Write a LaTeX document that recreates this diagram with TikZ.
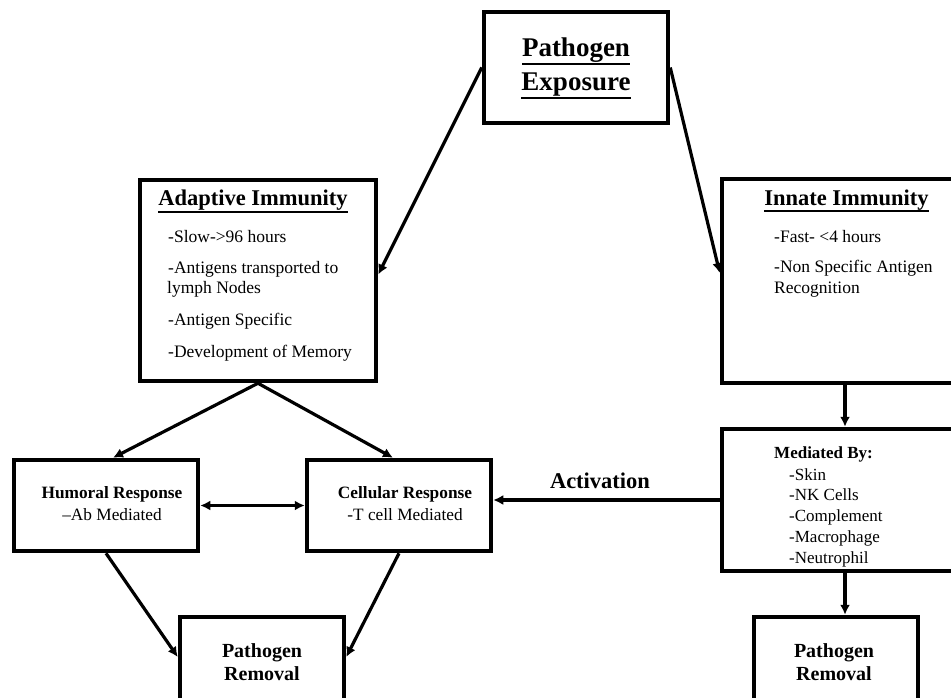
\documentclass[tikz,border=0pt]{standalone}
\usepackage{fontspec}
\setmainfont{Liberation Serif}
\usetikzlibrary{arrows.meta}
\newcommand\myul[1]{\setbox0\hbox{#1}\rlap{\rule[-0.3em]{\wd0}{0.075em}}\copy0}
\begin{document}
\begin{tikzpicture}[x=1pt,y=-1pt,
  box/.style={draw,line width=4.5pt,inner sep=0pt},
  arr/.style={line width=3.2pt,-{Latex[length=10pt,width=10pt]}},
  darr/.style={line width=3.2pt,{Latex[length=10pt,width=10pt]}-{Latex[length=10pt,width=10pt]}},
  bigt/.style={font=\fontsize{27}{32}\selectfont\bfseries,anchor=base,inner sep=0pt},
  hd/.style={font=\fontsize{22.5}{26}\selectfont\bfseries,anchor=base,inner sep=0pt},
  tx/.style={font=\fontsize{17.5}{20}\selectfont,anchor=base west,inner sep=0pt},
  sb/.style={font=\fontsize{17.3}{20}\selectfont\bfseries,anchor=base,inner sep=0pt},
  sr/.style={font=\fontsize{17.3}{20}\selectfont,anchor=base,inner sep=0pt},
  mb/.style={font=\fontsize{17}{20}\selectfont\bfseries,anchor=base west,inner sep=0pt},
  mt/.style={font=\fontsize{17}{20}\selectfont,anchor=base west,inner sep=0pt},
  rm/.style={font=\fontsize{20}{23}\selectfont\bfseries,anchor=base,inner sep=0pt}]
\useasboundingbox (0,0) rectangle (951,698);
\clip (0,0) rectangle (951,698);
\fill[white] (0,0) rectangle (951,698);
% boxes
\node[box,minimum width=184pt,minimum height=111pt] (pe) at (576,67.5) {};
\node[box,minimum width=236pt,minimum height=201pt] (ad) at (258,280.5) {};
\node[box,minimum width=246pt,minimum height=204pt] (in) at (845,281) {};
\node[box,minimum width=246pt,minimum height=142pt] (me) at (845,500) {};
\node[box,minimum width=184pt,minimum height=91pt] (hu) at (106,505.5) {};
\node[box,minimum width=184pt,minimum height=91pt] (ce) at (399,505.5) {};
\node[box,minimum width=164pt,minimum height=96pt] (lr) at (262,665) {};
\node[box,minimum width=164pt,minimum height=96pt] (rr) at (836,665) {};
% texts
\node[bigt] (pe1) at (576,57) {\myul{Pathogen}};
\node[bigt] (pe2) at (576,91) {\myul{Exposure}};
\node[hd] (adh) at (253,206) {\myul{Adaptive Immunity}};
\node[tx] (ad1) at (168,242) {-Slow->96 hours};
\node[tx] (ad2) at (168,273) {-Antigens transported to};
\node[tx] (ad3) at (167,293) {lymph Nodes};
\node[tx] (ad4) at (168,325) {-Antigen Specific};
\node[tx] (ad5) at (168,357) {-Development of Memory};
\node[hd] (inh) at (846.5,205) {\myul{Innate Immunity}};
\node[tx] (in1) at (774,242) {-Fast- <4 hours};
\node[tx] (in2) at (774,272) {-Non Specific Antigen};
\node[tx] (in3) at (774,293) {Recognition};
\node[mb] (me0) at (774,458) {Mediated By:};
\node[mt] (me1) at (789,480) {-Skin};
\node[mt] (me2) at (789,500.5) {-NK Cells};
\node[mt] (me3) at (789,521) {-Complement};
\node[mt] (me4) at (789,542) {-Macrophage};
\node[mt] (me5) at (789,563) {-Neutrophil};
\node[sb] (hu1) at (112,498) {Humoral Response};
\node[sr] (hu2) at (112,520) {–Ab Mediated};
\node[sb] (ce1) at (405,498) {Cellular Response};
\node[sr] (ce2) at (405,520) {-T cell Mediated};
\node[rm] (lr1) at (262,657) {Pathogen};
\node[rm] (lr2) at (262,680) {Removal};
\node[rm] (rr1) at (834,657) {Pathogen};
\node[rm] (rr2) at (834,680) {Removal};
\node[hd] (act) at (600,488) {Activation};
% connectors
\draw[arr] (pe.west) -- ([yshift=6pt]ad.east);
\draw[arr] (pe.east) -- ([yshift=8pt]in.west);
\draw[arr] (ad.south) -- ([xshift=7pt]hu.north);
\draw[arr] (ad.south) -- ([xshift=-6pt]ce.north);
\draw[darr] (hu.east) -- (ce.west);
\draw[arr] (in.south) -- (me.north);
\draw[arr] (me.west) -- (me.west -| ce.east);
\draw[arr] (me.south) -- (me.south |- rr.north);
\draw[arr] (hu.south) -- ([yshift=8pt]lr.west);
\draw[arr] (ce.south) -- ([yshift=8pt]lr.east);
\end{tikzpicture}
\end{document}
